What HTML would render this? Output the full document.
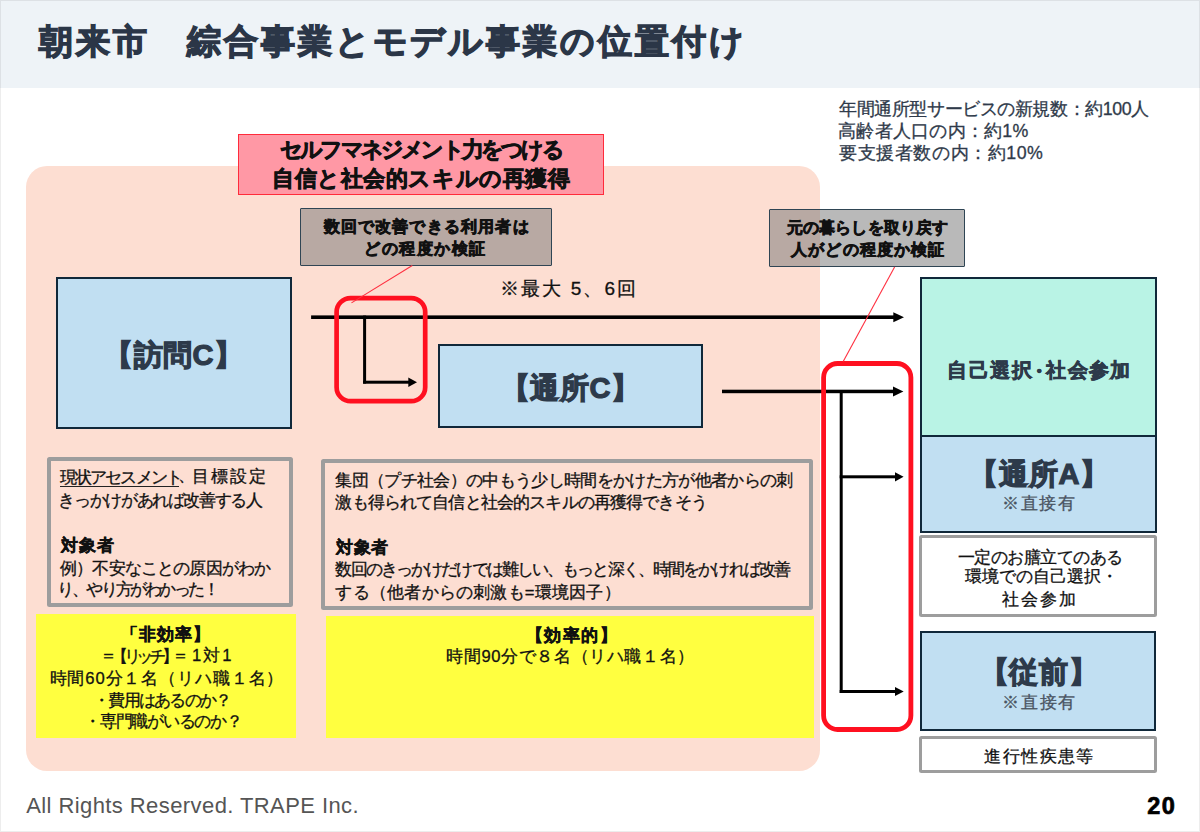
<!DOCTYPE html>
<html><head><meta charset="utf-8">
<style>
*{margin:0;padding:0;box-sizing:border-box}
html,body{width:1200px;height:832px;overflow:hidden;background:#fff}
body{position:relative;font-family:"Liberation Sans",sans-serif;color:#000}
.a{position:absolute}
.t{position:absolute;white-space:nowrap;line-height:1}
</style></head><body>
<div class="a" style="left:0px;top:0px;width:1200.00px;height:88.00px;background:#eef3f7"></div>
<div class="a" style="left:25.7px;top:165.7px;width:794.60px;height:605.10px;background:#fdded2;border-radius:21px"></div>
<div class="a" style="left:237.75px;top:133.5px;width:366.25px;height:61.20px;background:#ff98a5;border:1.3px solid #ff2b3b"></div>
<div class="a" style="left:300px;top:208px;width:252.00px;height:57.75px;background:rgba(120,120,120,0.52);border:1.8px solid #2f4554;border-radius:1px"></div>
<div class="a" style="left:769px;top:209px;width:195.75px;height:58.00px;background:rgba(120,120,120,0.52);border:1.8px solid #2f4554;border-radius:1px"></div>
<div class="a" style="left:55.9px;top:276.8px;width:236.10px;height:152.20px;background:#c1dff2;border:2.1px solid #10283a"></div>
<div class="a" style="left:438px;top:343.75px;width:264.50px;height:84.25px;background:#c1dff2;border:2.1px solid #10283a"></div>
<div class="a" style="left:920.3px;top:277px;width:236.30px;height:159.60px;background:#b9f3e5;border:2.1px solid #10283a"></div>
<div class="a" style="left:920.3px;top:434.5px;width:236.30px;height:98.70px;background:#c1dff2;border:2.1px solid #10283a"></div>
<div class="a" style="left:919.1px;top:535.3px;width:238.15px;height:82.10px;background:#fff;border:3.8px solid #9d9d9d;border-radius:2.5px"></div>
<div class="a" style="left:920.2px;top:631.3px;width:236.20px;height:99.50px;background:#c1dff2;border:2.2px solid #10283a"></div>
<div class="a" style="left:919.1px;top:736px;width:238.20px;height:37.00px;background:#fff;border:3.8px solid #9d9d9d;border-radius:2.5px"></div>
<div class="a" style="left:46.8px;top:456.7px;width:246.20px;height:150.80px;border:4px solid #9d9d9d;border-radius:2.5px"></div>
<div class="a" style="left:321px;top:458.9px;width:491.60px;height:150.85px;border:4px solid #9d9d9d;border-radius:2.5px"></div>
<div class="a" style="left:35.8px;top:614.25px;width:260.70px;height:123.35px;background:#ffff40"></div>
<div class="a" style="left:326.25px;top:615.75px;width:487.75px;height:122.25px;background:#ffff40"></div>
<div class="a" style="left:60px;top:485.9px;width:118.70px;height:1.20px;background:#222"></div>
<svg class="a" style="left:0;top:0" width="1200" height="832" viewBox="0 0 1200 832">
<g fill="#000">
<rect x="311.1" y="315.4" width="584" height="3.6"/>
<path d="M893.3,312.2 L904,317.2 L893.3,322.3 Z"/>
<rect x="363.1" y="315.6" width="3" height="68"/>
<rect x="363.1" y="380.7" width="47" height="3"/>
<path d="M408.3,377.5 L417,382.2 L408.3,386.9 Z"/>
<rect x="722" y="389.7" width="173" height="3.5"/>
<path d="M893,386.6 L903.4,391.5 L893,396.6 Z"/>
<rect x="839.7" y="390" width="3" height="303"/>
<rect x="839.7" y="475.3" width="57" height="3"/>
<path d="M895,472.2 L903.6,476.8 L895,481.4 Z"/>
<rect x="839.7" y="690" width="57" height="3"/>
<path d="M895,687 L903.7,691.5 L895,696 Z"/>
</g>
<g fill="none" stroke="#ff1020">
<rect x="336.6" y="298.1" width="88.6" height="103.1" rx="14" ry="14" stroke-width="4.7"/>
<rect x="823.6" y="363.5" width="87.3" height="366" rx="14" ry="14" stroke-width="4.8"/>
<line x1="412.3" y1="265.5" x2="351.5" y2="302.9" stroke="#ff3040" stroke-width="1.1"/>
<line x1="894.6" y1="267" x2="843.2" y2="361.5" stroke="#ff3040" stroke-width="1.1"/>
</g>
</svg>
<div class="t" style="left:39.3px;top:24.4px;font-size:34.0px;letter-spacing:2.917px;color:#2b3647;font-weight:bold;-webkit-text-stroke:1.3px #2b3647;">朝来市　綜合事業とモデル事業の位置付け</div>
<div class="t" style="left:839.2px;top:100.5px;font-size:17.8px;letter-spacing:-0.428px;color:#2f3a4a;-webkit-text-stroke:0.3px #2f3a4a;">年間通所型サービスの新規数：約100人</div>
<div class="t" style="left:838.2px;top:122.8px;font-size:17.8px;letter-spacing:0.24px;color:#2f3a4a;-webkit-text-stroke:0.3px #2f3a4a;">高齢者人口の内：約1%</div>
<div class="t" style="left:839.2px;top:144.8px;font-size:17.8px;letter-spacing:0.555px;color:#2f3a4a;-webkit-text-stroke:0.3px #2f3a4a;">要支援者数の内：約10%</div>
<div class="t" style="left:280.0px;top:139.7px;font-size:21.5px;letter-spacing:-2.792px;color:#111;font-weight:bold;-webkit-text-stroke:0.8px #111;">セルフマネジメント力をつける</div>
<div class="t" style="left:272.0px;top:168.85px;font-size:21.5px;letter-spacing:0.583px;color:#111;font-weight:bold;-webkit-text-stroke:0.8px #111;">自信と社会的スキルの再獲得</div>
<div class="t" style="left:323.5px;top:218.05px;font-size:16.4px;letter-spacing:1.182px;color:#111;font-weight:bold;-webkit-text-stroke:0.7px #111;">数回で改善できる利用者は</div>
<div class="t" style="left:364.0px;top:239.95px;font-size:16.4px;letter-spacing:1.567px;color:#111;font-weight:bold;-webkit-text-stroke:0.7px #111;">どの程度か検証</div>
<div class="t" style="left:787.4px;top:218.55px;font-size:16.4px;letter-spacing:0.022px;color:#111;font-weight:bold;-webkit-text-stroke:0.7px #111;">元の暮らしを取り戻す</div>
<div class="t" style="left:791.0px;top:240.55px;font-size:16.4px;letter-spacing:1.175px;color:#111;font-weight:bold;-webkit-text-stroke:0.7px #111;">人がどの程度か検証</div>
<div class="t" style="left:104.4px;top:341.4px;font-size:29.0px;letter-spacing:0.4px;color:#2d3a4a;font-weight:bold;-webkit-text-stroke:1.2px #2d3a4a;">【訪問C】</div>
<div class="t" style="left:499.7px;top:278.65px;font-size:19.0px;letter-spacing:2.171px;color:#111;-webkit-text-stroke:0.3px #111;">※最大 5、6回</div>
<div class="t" style="left:500.7px;top:374.2px;font-size:29.0px;letter-spacing:0.575px;color:#2d3a4a;font-weight:bold;-webkit-text-stroke:1.2px #2d3a4a;">【通所C】</div>
<div class="t" style="left:947.2px;top:361.2px;font-size:19.6px;letter-spacing:1.5px;color:#2d3a4a;font-weight:bold;-webkit-text-stroke:0.7px #2d3a4a;">自己選択</div>
<div class="t" style="left:1029.3px;top:362.45px;font-size:19.6px;letter-spacing:0.0px;color:#2d3a4a;font-weight:bold;-webkit-text-stroke:0.7px #2d3a4a;">・</div>
<div class="t" style="left:1046.3px;top:361.2px;font-size:19.6px;letter-spacing:1.233px;color:#2d3a4a;font-weight:bold;-webkit-text-stroke:0.7px #2d3a4a;">社会参加</div>
<div class="t" style="left:969.0px;top:460.1px;font-size:29.0px;letter-spacing:0.8px;color:#2d3a4a;font-weight:bold;-webkit-text-stroke:1.2px #2d3a4a;">【通所A】</div>
<div class="t" style="left:1002.4px;top:495.2px;font-size:17.4px;letter-spacing:1.467px;color:#4a5462;-webkit-text-stroke:0.3px #4a5462;">※直接有</div>
<div class="t" style="left:957.8px;top:550.0px;font-size:16.6px;letter-spacing:-0.511px;color:#111;-webkit-text-stroke:0.3px #111;">一定のお膳立てのある</div>
<div class="t" style="left:964.9px;top:569.15px;font-size:16.6px;letter-spacing:0.075px;color:#111;-webkit-text-stroke:0.3px #111;">環境での自己選択・</div>
<div class="t" style="left:1002.2px;top:590.7px;font-size:17.4px;letter-spacing:2.1px;color:#111;-webkit-text-stroke:0.3px #111;">社会参加</div>
<div class="t" style="left:979.7px;top:658.1px;font-size:29.0px;letter-spacing:0.767px;color:#2d3a4a;font-weight:bold;-webkit-text-stroke:1.2px #2d3a4a;">【従前】</div>
<div class="t" style="left:1001.6px;top:694.0px;font-size:17.4px;letter-spacing:1.967px;color:#4a5462;-webkit-text-stroke:0.3px #4a5462;">※直接有</div>
<div class="t" style="left:984.3px;top:747.9px;font-size:17.4px;letter-spacing:1.44px;color:#111;-webkit-text-stroke:0.3px #111;">進行性疾患等</div>
<div class="t" style="left:60.0px;top:469.75px;font-size:16.6px;letter-spacing:-1.9px;color:#111;-webkit-text-stroke:0.3px #111;">現状アセスメント</div>
<div class="t" style="left:178.4px;top:468.4px;font-size:16.6px;letter-spacing:0.0px;color:#111;-webkit-text-stroke:0.3px #111;">、</div>
<div class="t" style="left:191.9px;top:469.45px;font-size:16.6px;letter-spacing:1.933px;color:#111;-webkit-text-stroke:0.3px #111;">目標設定</div>
<div class="t" style="left:58.4px;top:493.0px;font-size:16.6px;letter-spacing:-1.367px;color:#111;-webkit-text-stroke:0.3px #111;">きっかけがあれば改善する人</div>
<div class="t" style="left:61.4px;top:538.2px;font-size:16.6px;letter-spacing:0.6px;color:#111;font-weight:bold;-webkit-text-stroke:0.45px #111;">対象者</div>
<div class="t" style="left:60.2px;top:560.8px;font-size:16.6px;letter-spacing:-0.85px;color:#111;-webkit-text-stroke:0.3px #111;">例）不安なことの原因がわか</div>
<div class="t" style="left:57.2px;top:582.0px;font-size:16.6px;letter-spacing:-2.42px;color:#111;-webkit-text-stroke:0.3px #111;">り、やり方がわかった！</div>
<div class="t" style="left:121.0px;top:627.0px;font-size:16.6px;letter-spacing:1.0px;color:#111;font-weight:bold;-webkit-text-stroke:0.45px #111;">「非効率】</div>
<div class="t" style="left:99.5px;top:647.7px;font-size:16.6px;letter-spacing:0.0px;color:#111;-webkit-text-stroke:0.3px #111;">＝</div>
<div class="t" style="left:111.0px;top:649.45px;font-size:16.6px;letter-spacing:-4.325px;color:#111;-webkit-text-stroke:0.3px #111;">【リッチ】</div>
<div class="t" style="left:172.0px;top:647.7px;font-size:16.6px;letter-spacing:0.0px;color:#111;-webkit-text-stroke:0.3px #111;">＝</div>
<div class="t" style="left:191.9px;top:648.0px;font-size:16.6px;letter-spacing:2.05px;color:#111;-webkit-text-stroke:0.3px #111;">1対1</div>
<div class="t" style="left:49.6px;top:670.5px;font-size:16.6px;letter-spacing:0.877px;color:#111;-webkit-text-stroke:0.3px #111;">時間60分１名（リハ職１名）</div>
<div class="t" style="left:93.0px;top:692.8px;font-size:16.6px;letter-spacing:-1.75px;color:#111;-webkit-text-stroke:0.3px #111;">・費用はあるのか？</div>
<div class="t" style="left:84.0px;top:713.5px;font-size:16.6px;letter-spacing:-1.222px;color:#111;-webkit-text-stroke:0.3px #111;">・専門職がいるのか？</div>
<div class="t" style="left:335.4px;top:472.7px;font-size:16.6px;letter-spacing:-0.67px;color:#111;-webkit-text-stroke:0.3px #111;">集団（プチ社会）の中もう少し時間をかけた方が他者からの刺</div>
<div class="t" style="left:335.4px;top:494.8px;font-size:16.6px;letter-spacing:-0.848px;color:#111;-webkit-text-stroke:0.3px #111;">激も得られて自信と社会的スキルの再獲得できそう</div>
<div class="t" style="left:336.4px;top:540.35px;font-size:16.6px;letter-spacing:0.55px;color:#111;font-weight:bold;-webkit-text-stroke:0.45px #111;">対象者</div>
<div class="t" style="left:335.4px;top:562.3px;font-size:16.6px;letter-spacing:-1.876px;color:#111;-webkit-text-stroke:0.3px #111;">数回のきっかけだけでは難しい、もっと深く、時間をかければ改善</div>
<div class="t" style="left:335.4px;top:585.25px;font-size:16.6px;letter-spacing:0.225px;color:#111;-webkit-text-stroke:0.3px #111;">する（他者からの刺激も=環境因子）</div>
<div class="t" style="left:525.8px;top:627.6px;font-size:16.6px;letter-spacing:1.475px;color:#111;font-weight:bold;-webkit-text-stroke:0.45px #111;">【効率的】</div>
<div class="t" style="left:446.3px;top:649.4px;font-size:16.6px;letter-spacing:0.6px;color:#111;-webkit-text-stroke:0.3px #111;">時間90分で８名（リハ職１名）</div>
<div class="t" style="left:26.2px;top:795.0px;font-size:22.0px;letter-spacing:0.417px;color:#555;">All Rights Reserved. TRAPE Inc.</div>
<div class="t" style="left:1147.2px;top:795.4px;font-size:23.5px;letter-spacing:1.4px;color:#000;font-weight:bold;-webkit-text-stroke:0.7px #000;">20</div>
<div class="a" style="left:0px;top:0px;width:1200.00px;height:832.00px;border:1px solid rgba(0,0,0,0.07)"></div>
</body></html>
